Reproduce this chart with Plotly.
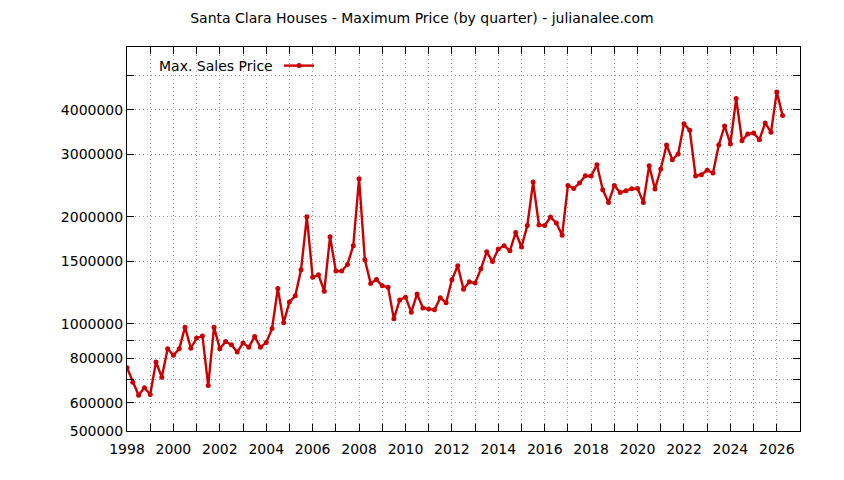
"""
    Santa Clara houses - maximum sales price per quarter, log scale,
    drawn in the style of the original gnuplot chart.
"""
from plotly import graph_objects as go

#-------> D A T A <-------
first_year = 1998

# maximum sales price, one value per quarter starting with 1998 Q1
max_price = [
    753000, 685000, 630000, 662000,        # 1998
    633000, 782000, 708000, 851000,        # 1999
    816000, 851000, 979000, 854000,        # 2000
    912000, 925000, 671000, 979000,        # 2001
    851000, 892000, 873000, 833000,        # 2002
    884000, 860000, 921000, 860000,        # 2003
    886000, 970000, 1257000, 1008000,      # 2004
    1153000, 1199000, 1419000, 2000000,    # 2005
    1353000, 1374000, 1236000, 1757000,    # 2006
    1407000, 1407000, 1469000, 1658000,    # 2007
    2559000, 1514000, 1298000, 1332000,    # 2008
    1279000, 1268000, 1033000, 1168000,    # 2009
    1189000, 1079000, 1214000, 1109000,    # 2010
    1102000, 1095000, 1184000, 1146000,    # 2011
    1330000, 1456000, 1252000, 1313000,    # 2012
    1302000, 1428000, 1594000, 1497000,    # 2013
    1623000, 1658000, 1605000, 1807000,    # 2014
    1644000, 1891000, 2504000, 1896000,    # 2015
    1891000, 1997000, 1920000, 1776000,    # 2016
    2449000, 2403000, 2488000, 2609000,    # 2017
    2605000, 2802000, 2383000, 2194000,    # 2018
    2449000, 2341000, 2367000, 2398000,    # 2019
    2403000, 2194000, 2784000, 2393000,    # 2020
    2725000, 3183000, 2893000, 3002000,    # 2021
    3653000, 3499000, 2604000, 2626000,    # 2022
    2704000, 2655000, 3183000, 3599000,    # 2023
    3204000, 4297000, 3273000, 3418000,    # 2024
    3440000, 3294000, 3670000, 3454000,    # 2025
    4487000, 3849000,                      # 2026
]
quarters = [first_year + i / 4 for i in range(len(max_price))]

# axis ticks (gnuplot style: gridline on every year, label every 2nd)
x_tick_vals = list(range(1998, 2028))
x_tick_text = [str(y) if y % 2 == 0 and y < 2027 else "" for y in x_tick_vals]
y_tick_vals = [500000, 600000, 700000, 800000, 900000, 1000000,
               1500000, 2000000, 3000000, 4000000, 5000000]
y_tick_text = ["500000", "600000", "", "800000", "", "1000000",
               "1500000", "2000000", "3000000", "4000000", ""]

series_name = "Max. Sales Price"
title_text = "Santa Clara Houses - Maximum Price (by quarter) - julianalee.com"
line_color = "#cc0000"
font_family = "DejaVu Sans, Verdana, sans-serif"
#-----------------------------------------------------------

fig = go.Figure()
fig.add_trace(go.Scatter(x=quarters, y=max_price, name=" ",
                         mode="lines+markers",
                         line=dict(color=line_color, width=2.4),
                         marker=dict(color=line_color, size=5)))

axis_common = dict(showline=True, linecolor="black", linewidth=1, mirror="ticks",
                   ticks="inside", ticklen=7, tickcolor="black",
                   showgrid=True, gridcolor="#999999", gridwidth=1, griddash="1px,3px",
                   zeroline=False, tickfont=dict(size=14, color="black"))

fig.update_layout(xaxis=dict(range=[1998, 2027], tickmode="array",
                             tickvals=x_tick_vals, ticktext=x_tick_text,
                             ticklabelstandoff=5, **axis_common))
fig.update_layout(yaxis=dict(type="log", range=[5.69897, 6.778151], tickmode="array",
                             tickvals=y_tick_vals, ticktext=y_tick_text,
                             ticklabelstandoff=0, **axis_common))

# gnuplot puts the key text left of the sample line
fig.add_annotation(text=series_name, xref="paper", yref="paper",
                   x=0.2199, y=0.9505, xanchor="right", yanchor="middle",
                   showarrow=False, font=dict(size=14, color="black"))

# the page body adds an 8px offset, so the margins are shifted by that
fig.update_layout(width=844, height=480,
                  margin=dict(l=119, r=52, t=39, b=57),
                  paper_bgcolor="white", plot_bgcolor="white",
                  font=dict(family=font_family, size=14, color="black"),
                  title=dict(text=title_text, x=0.4905, xanchor="center",
                             y=1 - 10 / 480, yanchor="middle", yref="container",
                             font=dict(size=14, color="black")),
                  showlegend=True,
                  legend=dict(x=0.2259, y=0.9505, xanchor="left", yanchor="middle",
                              bgcolor="rgba(0,0,0,0)", borderwidth=0))

fig.write_html("out.html")
